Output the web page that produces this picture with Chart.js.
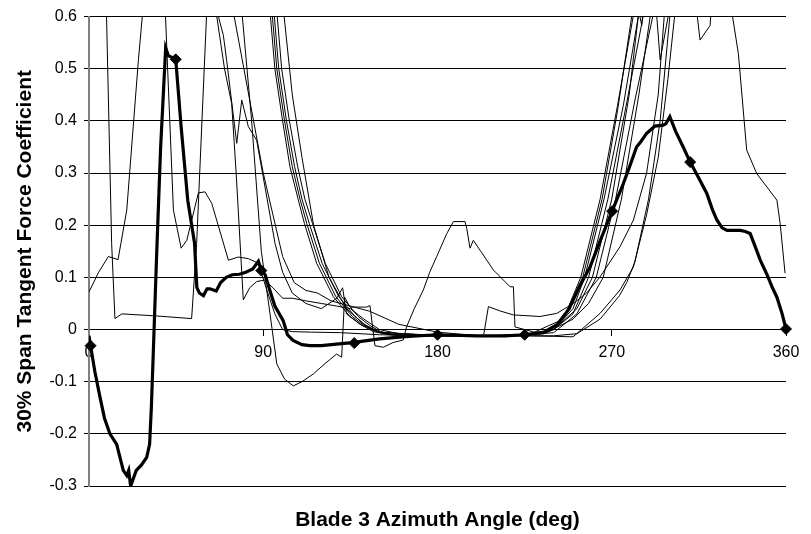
<!DOCTYPE html>
<html>
<head>
<meta charset="utf-8">
<script src="https://cdn.jsdelivr.net/npm/chart.js@4/dist/chart.umd.min.js"></script>
<style>
  html, body { margin: 0; padding: 0; background: #fff; }
  #wrap { width: 811px; height: 534px; }
</style>
</head>
<body>
<div id="wrap"><canvas id="chart"></canvas></div>
<script>
// axis ticks
const xTicks = [0, 90, 180, 270, 360];
const yTicks = [-0.3, -0.2, -0.1, 0, 0.1, 0.2, 0.3, 0.4, 0.5, 0.6];

// thick line (with diamond markers)
const mainX = [0, 0.8, 3, 5.7, 8, 10.8, 14.3, 17.7, 19.5, 20.5, 21.5, 22.5, 24.4, 27, 29.8, 31.3, 32.2, 33, 35, 37, 39.6, 41, 44.8, 47.6, 51, 54.5, 55.7, 57, 59.1, 61, 62.5, 65.7, 68, 70.9, 74, 77.7, 81, 84.6, 87.5, 89, 91, 93.5, 96, 100.3, 102.5, 105.4, 110, 114, 120, 127.8, 136, 150, 165, 180, 200, 215, 225, 235, 242, 248, 253, 258.8, 264, 270.2, 276, 279, 282.8, 285, 288, 292.3, 296.6, 298, 300, 303, 306.9, 310.5, 315, 319.1, 322, 324.3, 327, 329.5, 333, 336.4, 339, 341.5, 344, 346.7, 350.1, 353, 355.3, 358, 360];
const mainY = [-0.012, -0.031, -0.08, -0.13, -0.17, -0.2, -0.22, -0.27, -0.28, -0.27, -0.3, -0.29, -0.27, -0.26, -0.245, -0.22, -0.15, -0.066, 0.15, 0.35, 0.54, 0.525, 0.518, 0.388, 0.248, 0.166, 0.081, 0.07, 0.065, 0.078, 0.078, 0.074, 0.09, 0.1, 0.105, 0.106, 0.11, 0.116, 0.131, 0.113, 0.105, 0.074, 0.045, 0.017, -0.01, -0.021, -0.029, -0.031, -0.031, -0.028, -0.025, -0.018, -0.013, -0.01, -0.012, -0.012, -0.01, -0.005, 0.01, 0.04, 0.08, 0.12, 0.17, 0.227, 0.28, 0.31, 0.35, 0.36, 0.376, 0.39, 0.392, 0.395, 0.408, 0.38, 0.35, 0.321, 0.29, 0.261, 0.23, 0.21, 0.195, 0.19, 0.19, 0.19, 0.188, 0.184, 0.16, 0.133, 0.106, 0.08, 0.062, 0.03, 0.001];
const markerX = [0.8, 44.8, 89, 137, 180, 225, 270.2, 310.5, 360];
const markerY = [-0.031, 0.518, 0.113, -0.026, -0.01, -0.01, 0.227, 0.321, 0.001];

// thin lines
const thinAX = [0, 5, 10, 15, 19.5, 25.5, 28, 31, 36, 39.3, 43.6, 47.6, 50.5, 56.5, 59.9, 63.4, 72, 77.1, 82.3, 87.5, 91.8, 96, 100, 105, 115, 130, 150, 180, 210, 230, 240, 250, 256, 266, 276, 284.6];
const thinAY = [0.072, 0.11, 0.14, 0.134, 0.229, 0.516, 0.62, 0.8, 0.8, 0.62, 0.229, 0.156, 0.171, 0.262, 0.264, 0.242, 0.133, 0.139, 0.136, 0.127, 0.076, 0.03, 0.0, -0.004, -0.005, -0.006, -0.01, -0.012, -0.012, -0.008, 0.0, 0.04, 0.1, 0.25, 0.43, 0.62];

const thinBX = [0, 9, 11.7, 13.4, 17, 35, 53, 55.6, 60.8, 64, 66, 69.4, 71.1, 76.3, 78.9, 82.3, 86.6, 96.1, 100, 105, 112, 120, 128, 131, 133, 140, 150, 170, 200, 225, 240, 252, 260, 270, 279, 284, 285.5, 287];
const thinBY = [0.9, 0.61, 0.165, 0.021, 0.03, 0.026, 0.021, 0.165, 0.61, 0.7, 0.612, 0.564, 0.516, 0.357, 0.44, 0.389, 0.363, 0.165, 0.11, 0.07, 0.05, 0.04, 0.06, 0.08, 0.03, 0.01, -0.005, -0.01, -0.012, -0.01, 0.0, 0.04, 0.1, 0.25, 0.45, 0.61, 0.583, 0.65];

const thinCX = [85, 93.5, 96, 100, 103.8, 108, 111.3, 117.6, 126.2, 134.8, 141, 146.9, 155, 170, 190, 210, 225, 235, 245, 255, 265, 273, 280.3, 283];
const thinCY = [1.0, 0.61, 0.5, 0.4, 0.312, 0.25, 0.203, 0.127, 0.063, 0.025, 0.008, -0.004, -0.01, -0.012, -0.012, -0.012, -0.01, -0.005, 0.02, 0.1, 0.25, 0.42, 0.6, 0.7];

const thinDX = [86, 94.5, 97, 101, 105, 109, 112.5, 119, 127.5, 136, 142, 148, 156, 170, 190, 210, 225, 240, 252, 262, 272, 282, 292.3];
const thinDY = [1.0, 0.61, 0.5, 0.4, 0.312, 0.25, 0.203, 0.127, 0.063, 0.025, 0.008, -0.004, -0.01, -0.012, -0.012, -0.012, -0.01, -0.006, 0.03, 0.1, 0.25, 0.44, 0.62];

const thinEX = [87, 95.5, 98, 102, 106.2, 110, 113.8, 120.4, 129, 137.4, 143, 149, 157, 170, 190, 210, 225, 240, 252, 264, 274, 277.7, 282, 289, 295, 300.5];
const thinEY = [1.0, 0.61, 0.5, 0.4, 0.312, 0.25, 0.203, 0.127, 0.063, 0.025, 0.008, -0.004, -0.01, -0.012, -0.012, -0.012, -0.012, -0.012, -0.008, 0.02, 0.065, 0.09, 0.13, 0.25, 0.4, 0.62];

const thinFX = [88, 97, 99.5, 103.5, 107.8, 111.5, 115.5, 122, 130.5, 139, 145, 150.5, 158, 170, 190, 210, 225, 240, 250, 264, 274.3, 281.2, 288, 294, 299, 303];
const thinFY = [1.0, 0.61, 0.5, 0.4, 0.312, 0.25, 0.203, 0.127, 0.063, 0.025, 0.008, -0.004, -0.01, -0.012, -0.012, -0.012, -0.012, -0.013, -0.014, 0.031, 0.076, 0.12, 0.22, 0.33, 0.48, 0.62];

const thinGX = [70, 80, 85, 90, 95, 100, 106, 112, 118, 125, 135, 145, 160, 180, 195, 203, 203.7, 206.3, 212, 219.2, 233, 241.6, 250.2, 257, 264, 274.3, 281.2, 288, 294, 297.5];
const thinGY = [0.7, 0.5, 0.4, 0.3, 0.22, 0.14, 0.09, 0.075, 0.07, 0.055, 0.045, 0.035, 0.01, -0.005, -0.01, -0.012, -0.014, 0.044, 0.036, 0.028, 0.025, 0.031, 0.05, 0.07, 0.101, 0.159, 0.21, 0.3, 0.45, 0.62];

const thinHX = [78, 84, 89, 93.5, 97, 101, 105.5, 110, 115.9, 122, 127.9, 130.5, 132, 134.8, 143.4, 145.1, 147.7, 152, 157, 162.3, 164, 168, 172.7, 176, 179.6, 184.8, 188.2, 194.2, 195.1, 196.8, 198.5, 202, 208.9, 217.5, 219.2, 220, 230, 245, 254, 264, 273, 282];
const thinHY = [0.65, 0.4, 0.15, 0.03, -0.066, -0.095, -0.108, -0.1, -0.085, -0.065, -0.047, -0.053, 0.062, 0.043, 0.043, 0.046, -0.031, -0.034, -0.025, -0.02, 0.005, 0.04, 0.076, 0.11, 0.14, 0.184, 0.207, 0.207, 0.194, 0.156, 0.171, 0.152, 0.114, 0.082, 0.082, 0.005, -0.005, 0.02, 0.1, 0.25, 0.43, 0.62];

const thinIX = [305, 313.9, 315.6, 320.8, 322, 330, 331.9, 335.4, 339.7, 344.9, 355.3, 357, 359.5];
const thinIY = [0.9, 0.61, 0.555, 0.583, 0.65, 0.7, 0.612, 0.529, 0.344, 0.299, 0.248, 0.203, 0.108];

const thinJX = [90, 100.5, 105, 110, 116, 124, 133, 142, 150, 180, 210, 235, 250, 258, 265.6, 275, 284, 290.6, 292, 295, 300.1, 303];
const thinJY = [1.0, 0.61, 0.45, 0.33, 0.2, 0.1, 0.04, 0.01, -0.005, -0.012, -0.012, -0.008, 0.02, 0.05, 0.1, 0.25, 0.45, 0.62, 0.66, 0.517, 0.62, 0.72];

const thinKX = [62, 66, 70, 73.7, 76, 79.7, 83, 86.6, 90.9, 95, 100, 105, 112, 120, 128, 135, 142, 150, 160, 175, 200, 220, 235, 240, 250, 258, 268, 278, 287.2];
const thinKY = [0.8, 0.6, 0.5, 0.433, 0.3, 0.057, 0.08, 0.092, 0.095, 0.08, 0.06, 0.06, 0.055, 0.05, 0.045, 0.04, 0.02, 0.0, -0.008, -0.01, -0.012, -0.012, -0.008, 0.0, 0.03, 0.1, 0.25, 0.44, 0.62];

const thinSeries = [
  [thinAX, thinAY], [thinBX, thinBY], [thinCX, thinCY], [thinDX, thinDY],
  [thinEX, thinEY], [thinFX, thinFY], [thinGX, thinGY], [thinHX, thinHY],
  [thinIX, thinIY], [thinJX, thinJY], [thinKX, thinKY]
];

function pts(xs, ys) {
  return xs.map((x, i) => ({ x: x, y: ys[i] }));
}

const datasets = [];
datasets.push({
  data: pts(markerX, markerY),
  showLine: false,
  pointStyle: 'rectRot',
  pointRadius: 5.5,
  backgroundColor: '#000',
  borderColor: '#000',
  borderWidth: 1,
  clip: false
});
datasets.push({
  data: pts(mainX, mainY),
  borderColor: '#000',
  borderWidth: 3.2,
  pointRadius: 0
});
thinSeries.forEach(s => {
  datasets.push({
    data: pts(s[0], s[1]),
    borderColor: '#000',
    borderWidth: 1,
    pointRadius: 0
  });
});

const FONT = "'Liberation Sans', Arial, sans-serif";

const xTitle = {
  id: 'xTitle',
  afterDraw(chart) {
    const ctx = chart.ctx;
    const a = chart.chartArea;
    ctx.save();
    ctx.font = 'bold 21px ' + FONT;
    ctx.fillStyle = '#000';
    ctx.textAlign = 'center';
    ctx.textBaseline = 'alphabetic';
    ctx.fillText('Blade 3 Azimuth Angle (deg)', (a.left + a.right) / 2, 526);
    ctx.restore();
  }
};

new Chart(document.getElementById('chart'), {
  type: 'line',
  data: { datasets: datasets },
  plugins: [xTitle],
  options: {
    responsive: true,
    maintainAspectRatio: false,
    animation: false,
    events: [],
    layout: { padding: { top: 16, right: 25, bottom: 48, left: 0 } },
    elements: { line: { tension: 0 } },
    plugins: { legend: { display: false }, tooltip: { enabled: false } },
    scales: {
      x: {
        type: 'linear',
        min: 0,
        max: 360,
        position: { y: 0 },
        afterBuildTicks: s => { s.ticks = xTicks.map(v => ({ value: v })); },
        ticks: { color: '#000', font: { family: FONT, size: 16 }, padding: 7, maxRotation: 0,
                 callback: v => String(v) },
        grid: { display: true, drawOnChartArea: false, drawTicks: true, tickLength: 6, color: '#000' },
        border: { display: true, color: '#000', width: 1 }
      },
      y: {
        type: 'linear',
        min: -0.3,
        max: 0.6,
        afterBuildTicks: s => { s.ticks = yTicks.map(v => ({ value: v })); },
        afterFit: s => { s.width = 89; },
        ticks: { color: '#000', font: { family: FONT, size: 16 }, padding: 7,
                 callback: v => Math.abs(v) < 1e-9 ? '0' : v.toFixed(1) },
        grid: { color: '#000', lineWidth: 1, drawTicks: true, tickLength: 5 },
        border: { display: true, color: '#808080', width: 2 },
        title: { display: true, text: '30% Span Tangent Force Coefficient', color: '#000',
                 font: { family: FONT, size: 21, weight: 'bold' }, padding: { top: 13, bottom: 0 } }
      }
    }
  }
});
</script>
</body>
</html>
